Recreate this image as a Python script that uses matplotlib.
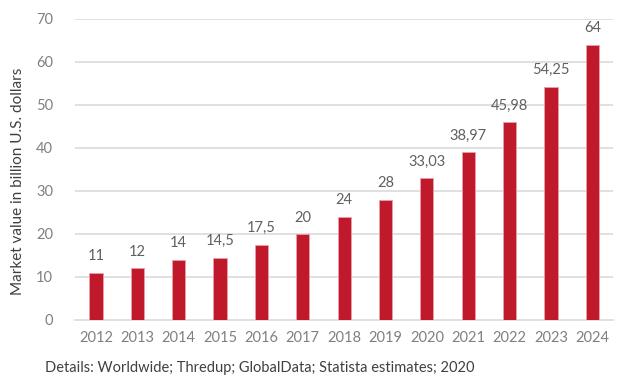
import matplotlib
matplotlib.use("Agg")
import matplotlib.pyplot as plt

years = ['2012', '2013', '2014', '2015', '2016', '2017', '2018',
         '2019', '2020', '2021', '2022', '2023', '2024']
values = [11, 12, 14, 14.5, 17.5, 20, 24, 28, 33.03, 38.97, 45.98, 54.25, 64]
labels = ['11', '12', '14', '14,5', '17,5', '20', '24', '28',
          '33,03', '38,97', '45,98', '54,25', '64']

plt.rcParams['font.family'] = ['Lato', 'DejaVu Sans']

fig = plt.figure(figsize=(6.32, 3.86), dpi=100)
ax = fig.add_axes([0.119, 0.171, 0.851, 0.78])

x = list(range(len(years)))
ax.bar(x, values, width=0.32, color='#c0192b', edgecolor='#e8a0a8',
       linewidth=0.6, zorder=3)
for xi, v, lab in zip(x, values, labels):
    ax.text(xi, v + 2.2, lab, ha='center', va='bottom', fontsize=10.5,
            color='#606060')

ax.set_xlim(-0.5, len(years) - 0.5)
ax.set_ylim(0, 70)
ax.set_yticks(range(0, 71, 10))
ax.set_xticks(x)
ax.set_xticklabels(years)
ax.yaxis.grid(True, color='#e0e0e0', linewidth=1.4, zorder=0)
ax.tick_params(axis='both', length=0, labelsize=10.5, labelcolor='#808080')
ax.tick_params(axis='y', pad=16)
ax.tick_params(axis='x', pad=8)
for s in ['top', 'right', 'left']:
    ax.spines[s].set_visible(False)
ax.spines['bottom'].set_color('#e0e0e0')
ax.spines['bottom'].set_linewidth(1.4)

fig.text(0.028, 0.53, 'Market value in billion U.S. dollars', rotation=90,
         ha='center', va='center', fontsize=11, color='#404040')
fig.text(0.071, 0.047, 'Details: Worldwide; Thredup; GlobalData; Statista estimates; 2020',
         ha='left', va='center', fontsize=10.5, color='#404040')

fig.savefig('out.png', dpi=100)
